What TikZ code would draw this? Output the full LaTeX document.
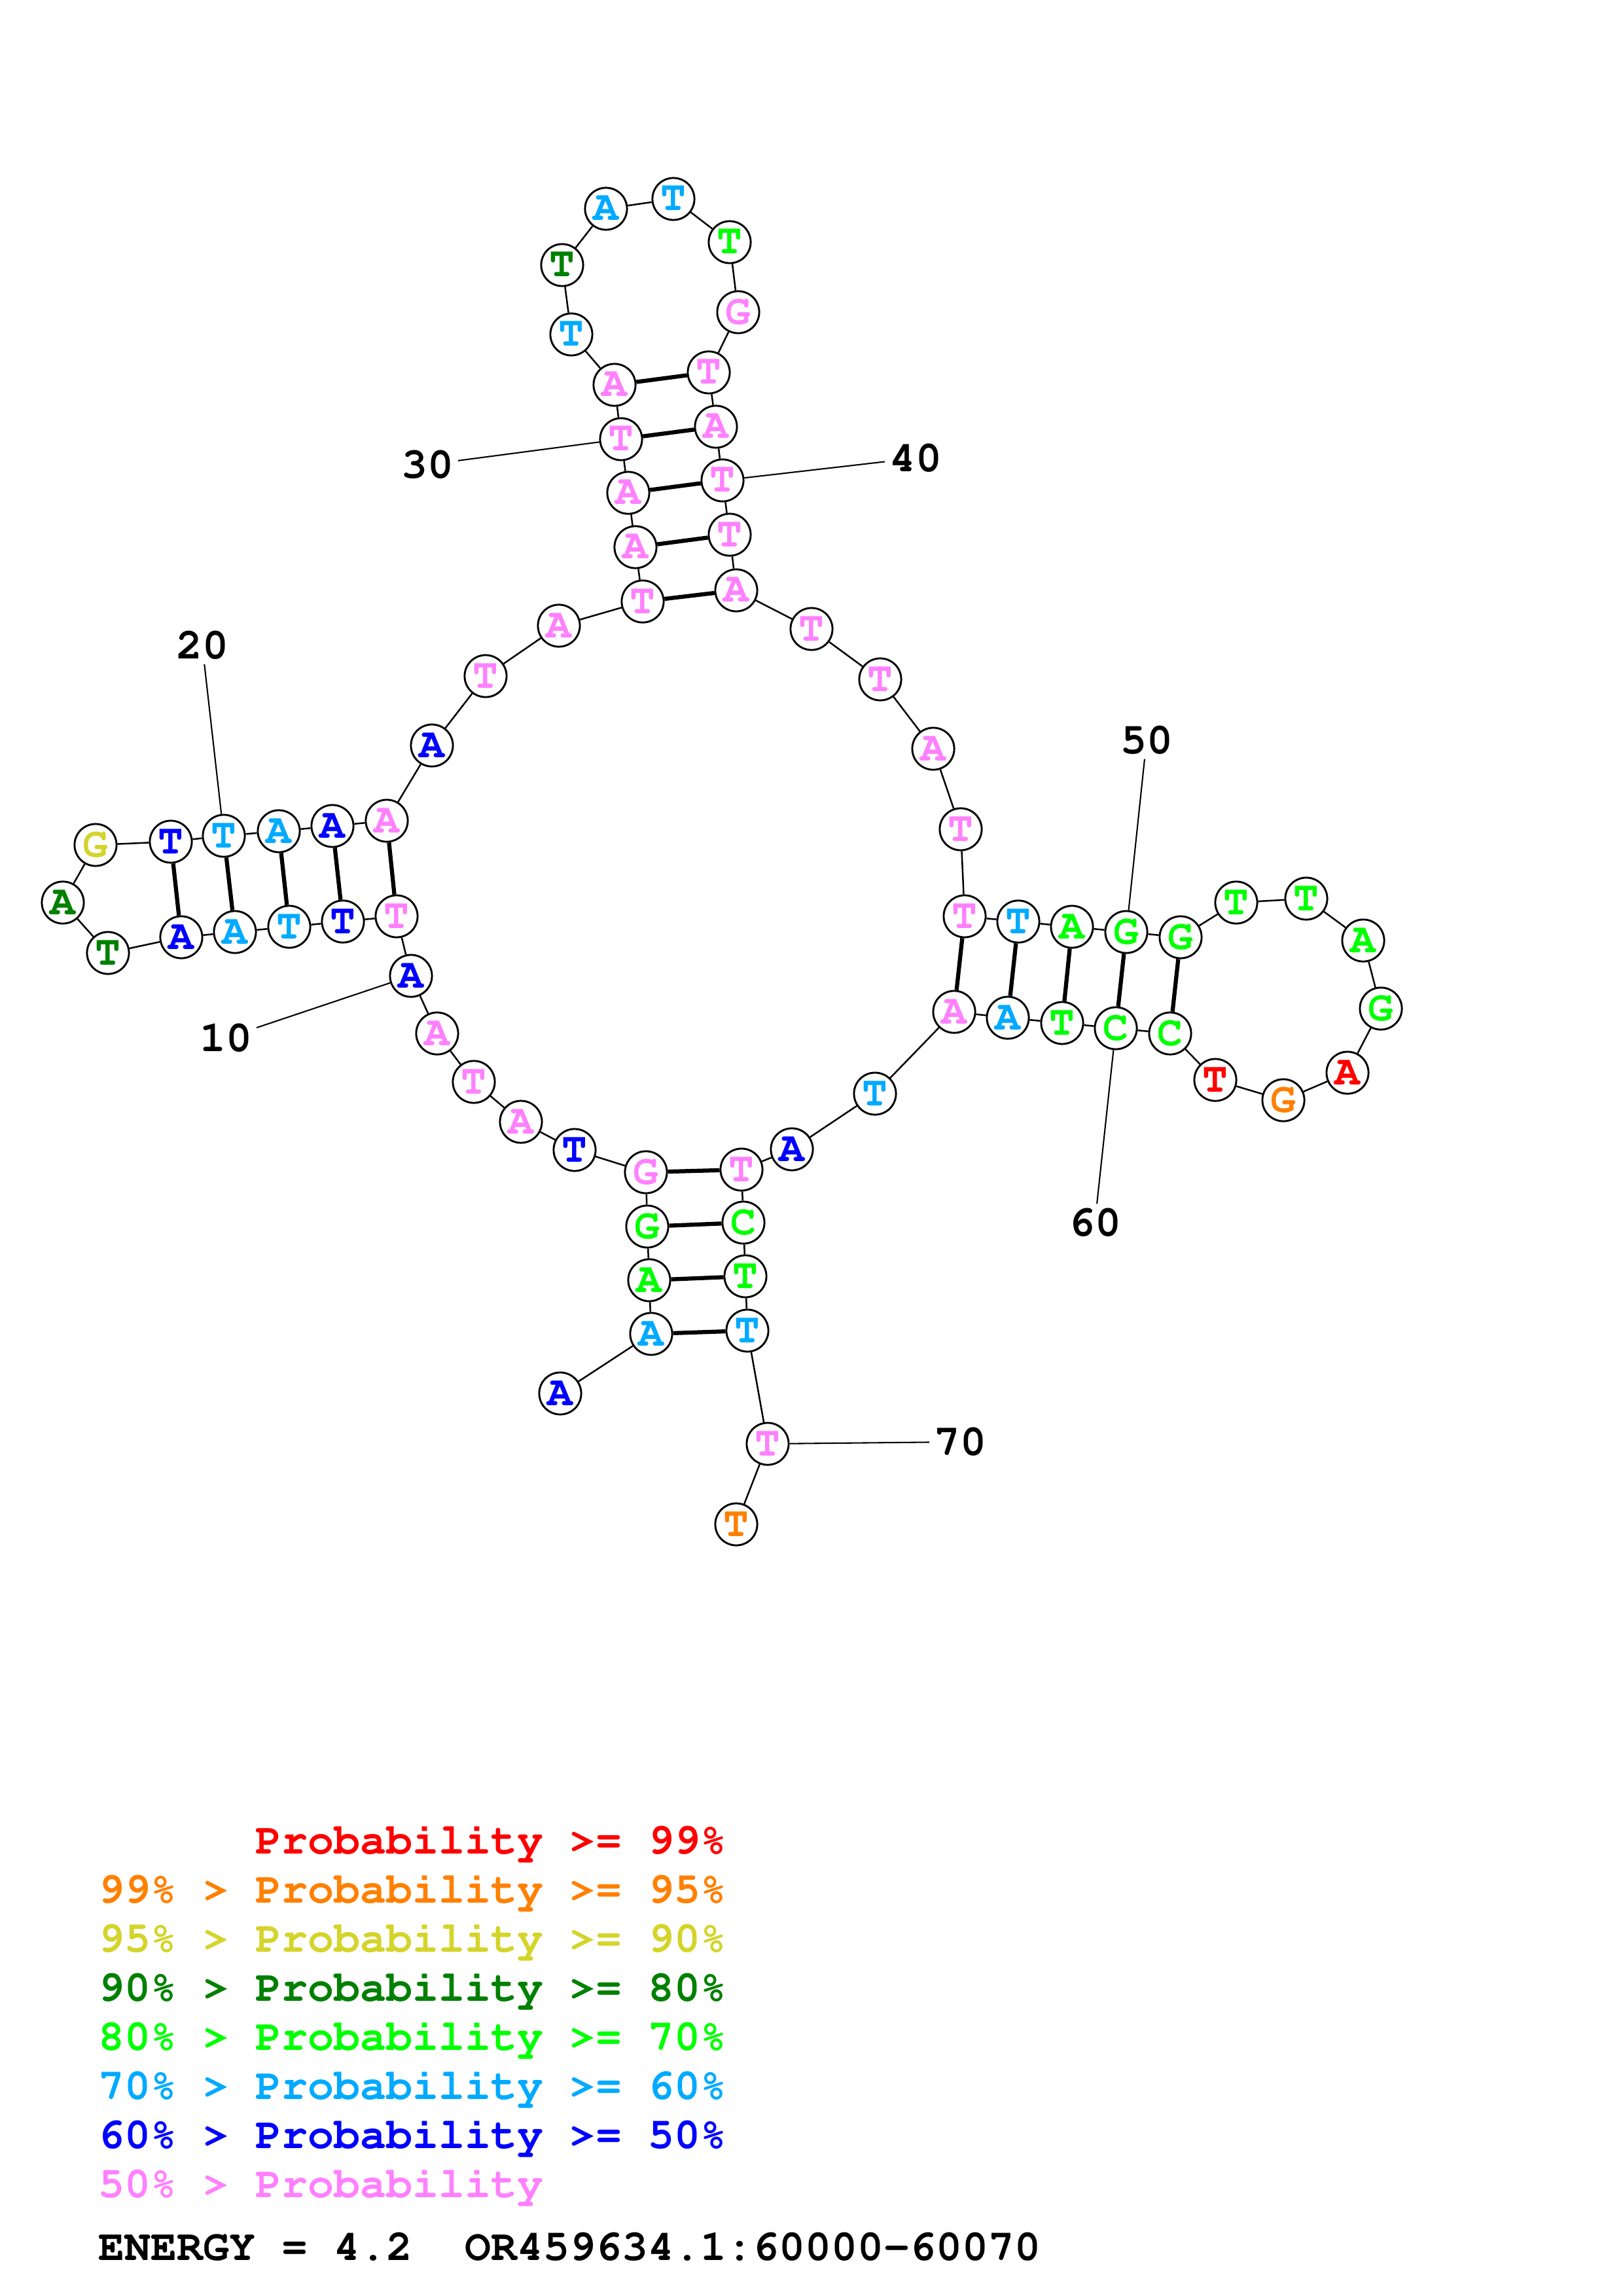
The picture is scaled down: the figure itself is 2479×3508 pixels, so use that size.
\documentclass[tikz,border=0pt]{standalone}
\usepackage[T1]{fontenc}
\usepackage{courier}
\usepackage{tikz}

\definecolor{pr99}{RGB}{255,0,0}
\definecolor{pr95}{RGB}{255,128,0}
\definecolor{pr90}{RGB}{212,212,42}
\definecolor{pr80}{RGB}{0,128,0}
\definecolor{pr70}{RGB}{0,255,0}
\definecolor{pr60}{RGB}{0,170,255}
\definecolor{pr50}{RGB}{0,0,255}
\definecolor{prlow}{RGB}{255,128,255}

\newcommand{\basefont}{\ttfamily\bfseries\fontsize{15.5}{15.5}\selectfont}
\newcommand{\numfont}{\ttfamily\bfseries\fontsize{16}{16}\selectfont}

\begin{document}
\begin{tikzpicture}[x=0.24pt, y=-0.24pt,
	nt/.style={circle, draw, fill=white, line width=0.7pt, minimum size=15.4pt, inner sep=0pt, font=\basefont},
	c99/.style={text=pr99}, c95/.style={text=pr95}, c90/.style={text=pr90}, c80/.style={text=pr80},
	c70/.style={text=pr70}, c60/.style={text=pr60}, c50/.style={text=pr50}, clow/.style={text=prlow},
	bb/.style={line width=0.6pt},
	bond/.style={line width=1.5pt},
	numlab/.style={font=\numfont, inner sep=1.5pt},
	tick/.style={line width=0.5pt},
	legend/.style={anchor=base west, font=\numfont, inner sep=0pt}]
	\useasboundingbox (0,0) rectangle (2479,3508);

	% 5' stem and loop
	\node[nt, c50] (n1) at (856,2129) {A};
	\node[nt, c60] (n2) at (995,2038) {A};
	\node[nt, c70] (n3) at (992,1956) {A};
	\node[nt, c70] (n4) at (989,1874) {G};
	\node[nt, clow] (n5) at (987,1791) {G};
	\node[nt, c50] (n6) at (878,1757) {T};
	\node[nt, clow] (n7) at (796,1714) {A};
	\node[nt, clow] (n8) at (724,1653) {T};
	\node[nt, clow] (n9) at (668,1579) {A};
	\node[nt, c50] (n10) at (628,1491) {A};
	% left arm
	\node[nt, clow] (n11) at (606,1400) {T};
	\node[nt, c50] (n12) at (524,1408) {T};
	\node[nt, c60] (n13) at (442,1416) {T};
	\node[nt, c60] (n14) at (359,1424) {A};
	\node[nt, c50] (n15) at (277,1432) {A};
	\node[nt, c80] (n16) at (165,1456) {T};
	\node[nt, c80] (n17) at (96,1379) {A};
	\node[nt, c90] (n18) at (146,1291) {G};
	\node[nt, c50] (n19) at (261,1286) {T};
	\node[nt, c60] (n20) at (342,1277) {T};
	\node[nt, c60] (n21) at (426,1270) {A};
	\node[nt, c50] (n22) at (508,1262) {A};
	\node[nt, clow] (n23) at (591,1254) {A};
	\node[nt, c50] (n24) at (660,1139) {A};
	\node[nt, clow] (n25) at (742,1033) {T};
	\node[nt, clow] (n26) at (854,956) {A};
	% top arm
	\node[nt, clow] (n27) at (982,919) {T};
	\node[nt, clow] (n28) at (971,836) {A};
	\node[nt, clow] (n29) at (960,753) {A};
	\node[nt, clow] (n30) at (949,671) {T};
	\node[nt, clow] (n31) at (939,588) {A};
	\node[nt, c60] (n32) at (873,511) {T};
	\node[nt, c80] (n33) at (859,405) {T};
	\node[nt, c60] (n34) at (926,319) {A};
	\node[nt, c60] (n35) at (1029,304) {T};
	\node[nt, c70] (n36) at (1115,370) {T};
	\node[nt, clow] (n37) at (1128,477) {G};
	\node[nt, clow] (n38) at (1083,569) {T};
	\node[nt, clow] (n39) at (1094,652) {A};
	\node[nt, clow] (n40) at (1104,734) {T};
	\node[nt, clow] (n41) at (1115,817) {T};
	\node[nt, clow] (n42) at (1125,902) {A};
	\node[nt, clow] (n43) at (1240,961) {T};
	\node[nt, clow] (n44) at (1345,1038) {T};
	\node[nt, clow] (n45) at (1426,1144) {A};
	\node[nt, clow] (n46) at (1468,1267) {T};
	% right arm
	\node[nt, clow] (n47) at (1474,1400) {T};
	\node[nt, c60] (n48) at (1556,1408) {T};
	\node[nt, c70] (n49) at (1638,1416) {A};
	\node[nt, c70] (n50) at (1721,1424) {G};
	\node[nt, c70] (n51) at (1804,1432) {G};
	\node[nt, c70] (n52) at (1889,1379) {T};
	\node[nt, c70] (n53) at (1996,1373) {T};
	\node[nt, c70] (n54) at (2083,1437) {A};
	\node[nt, c70] (n55) at (2110,1541) {G};
	\node[nt, c99] (n56) at (2059,1639) {A};
	\node[nt, c95] (n57) at (1961,1681) {G};
	\node[nt, c99] (n58) at (1857,1650) {T};
	\node[nt, c70] (n59) at (1788,1579) {C};
	\node[nt, c70] (n60) at (1705,1571) {C};
	\node[nt, c70] (n61) at (1623,1563) {T};
	\node[nt, c60] (n62) at (1540,1555) {A};
	\node[nt, clow] (n63) at (1458,1546) {A};
	% 3' end
	\node[nt, c60] (n64) at (1337,1671) {T};
	\node[nt, c50] (n65) at (1210,1756) {A};
	\node[nt, clow] (n66) at (1133,1787) {T};
	\node[nt, c70] (n67) at (1136,1868) {C};
	\node[nt, c70] (n68) at (1139,1950) {T};
	\node[nt, c60] (n69) at (1142,2033) {T};
	\node[nt, clow] (n70) at (1173,2206) {T};
	\node[nt, c95] (n71) at (1125,2329) {T};

	\foreach \i [count=\j from 2] in {1,...,70}
		\draw[bb] (n\i) -- (n\j);
	\foreach \a/\b in {2/69,3/68,4/67,5/66,11/23,12/22,13/21,14/20,15/19,
		27/42,28/41,29/40,30/39,31/38,47/63,48/62,49/61,50/60,51/59}
		\draw[bond] (n\a) -- (n\b);

	% position numbers
	\node[numlab] (l10) at (345,1586) {10};
	\node[numlab] (l20) at (309,986) {20};
	\node[numlab] (l30) at (653,710) {30};
	\node[numlab] (l40) at (1399,700) {40};
	\node[numlab] (l50) at (1752,1131) {50};
	\node[numlab] (l60) at (1673,1868) {60};
	\node[numlab] (l70) at (1467,2203) {70};
	\foreach \k in {10,20,...,70}
		\draw[tick] (l\k) -- (n\k);

	% legend
	\node[legend, text=pr99] (g1) at (150,2832) {\phantom{99\% >} Probability >= 99\%};
	\node[legend, text=pr95] (g2) at (150,2907) {99\% > Probability >= 95\%};
	\node[legend, text=pr90] (g3) at (150,2982) {95\% > Probability >= 90\%};
	\node[legend, text=pr80] (g4) at (150,3057) {90\% > Probability >= 80\%};
	\node[legend, text=pr70] (g5) at (150,3132) {80\% > Probability >= 70\%};
	\node[legend, text=pr60] (g6) at (150,3207) {70\% > Probability >= 60\%};
	\node[legend, text=pr50] (g7) at (150,3282) {60\% > Probability >= 50\%};
	\node[legend, text=prlow] (g8) at (150,3357) {50\% > Probability};
	\node[legend] (energy) at (150,3453) {ENERGY = 4.2\ \ OR459634.1:60000-60070};
\end{tikzpicture}
\end{document}
